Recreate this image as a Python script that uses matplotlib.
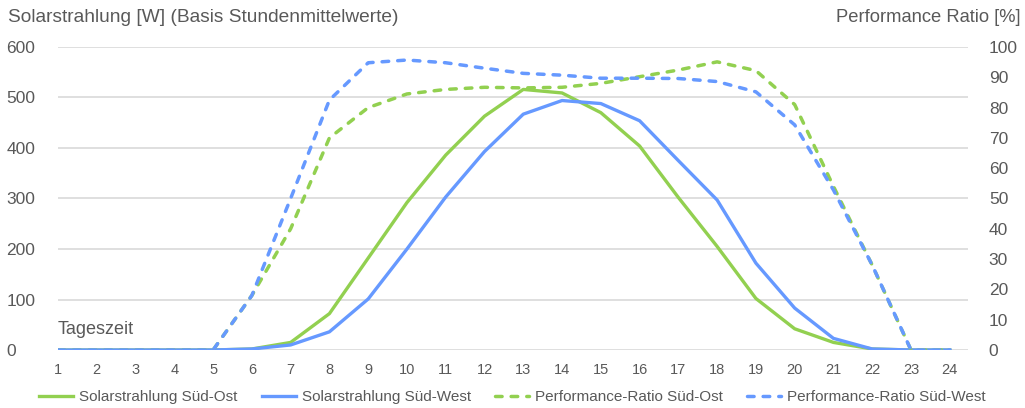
import numpy as np
import matplotlib.pyplot as plt

plt.rcParams['font.family'] = ['Liberation Sans', 'DejaVu Sans']

# Stunde des Tages
stunden = list(range(1, 25))

# Solarstrahlung in W (Stundenmittelwerte)
solar_so = [0, 0, 0, 0, 0, 2, 15, 72, 182, 292, 386, 463, 516, 509, 470, 404, 302, 205, 102, 42, 15, 2, 0, 0]
solar_sw = [0, 0, 0, 0, 0, 2, 10, 36, 101, 200, 303, 393, 467, 494, 488, 454, 375, 297, 172, 83, 23, 2, 0, 0]

# Performance Ratio in %
pr_so = [0, 0, 0, 0, 0, 18, 40, 70, 80, 84.5, 86, 86.7, 86.5, 86.7, 88, 90.2, 92.4, 95.1, 92.2, 81, 54, 28, 0, 0]
pr_sw = [0, 0, 0, 0, 0, 18, 50, 82.5, 94.8, 95.7, 94.8, 93, 91.3, 90.7, 89.7, 89.7, 89.6, 88.6, 85.2, 74.3, 52.8, 28, 0, 0]

gruen = '#92D050'
blau = '#6699FF'
grau = '#595959'

fig = plt.figure(figsize=(10.25, 4.08), dpi=100)
ax = fig.add_axes([58/1025, 1 - 350/408, 910/1025, 303/408])
ax2 = ax.twinx()

strich = dict(lw=2.5, ls=(0, (1.9, 2.6)), dash_capstyle='round')
ax.plot(stunden, solar_so, color=gruen, lw=2.4, label='Solarstrahlung Süd-Ost')
ax.plot(stunden, solar_sw, color=blau, lw=2.4, label='Solarstrahlung Süd-West')
ax2.plot(stunden, pr_so, color=gruen, label='Performance-Ratio Süd-Ost', **strich)
ax2.plot(stunden, pr_sw, color=blau, label='Performance-Ratio Süd-West', **strich)

ax.set_xlim(1, 24.47)
ax.set_ylim(0, 600)
ax2.set_ylim(0, 100)
ax.set_xticks(stunden)
ax.set_yticks(range(0, 601, 100))
ax2.set_yticks(range(0, 101, 10))

ax.grid(axis='y', color='#D9D9D9', lw=1.2)
ax.set_axisbelow(True)
for a in (ax, ax2):
    for s in a.spines.values():
        s.set_visible(False)

ax.tick_params(axis='x', length=0, pad=9, labelsize=10.5, labelcolor=grau)
ax.tick_params(axis='y', length=0, pad=37, labelsize=12.5, labelcolor=grau)
for lbl in ax.get_yticklabels():
    lbl.set_horizontalalignment('left')
ax2.tick_params(axis='y', length=0, pad=15, labelsize=12.5, labelcolor=grau)

fig.text(8/1025, 1 - 18/408, 'Solarstrahlung [W] (Basis Stundenmittelwerte)',
         fontsize=13.8, color=grau, va='center', ha='left')
fig.text(1020/1025, 1 - 18/408, 'Performance Ratio [%]',
         fontsize=13.2, color=grau, va='center', ha='right')
ax.text(1, 40, 'Tageszeit', fontsize=13, color=grau, va='center', ha='left')

h1, l1 = ax.get_legend_handles_labels()
h2, l2 = ax2.get_legend_handles_labels()
fig.legend(h1 + h2, l1 + l2, loc='center', bbox_to_anchor=(0.5, 1 - 397/408), ncol=4,
           frameon=False, fontsize=11, labelcolor=grau, handlelength=2.2,
           handletextpad=0.4, columnspacing=1.6)

fig.savefig('out.png', dpi=100)
